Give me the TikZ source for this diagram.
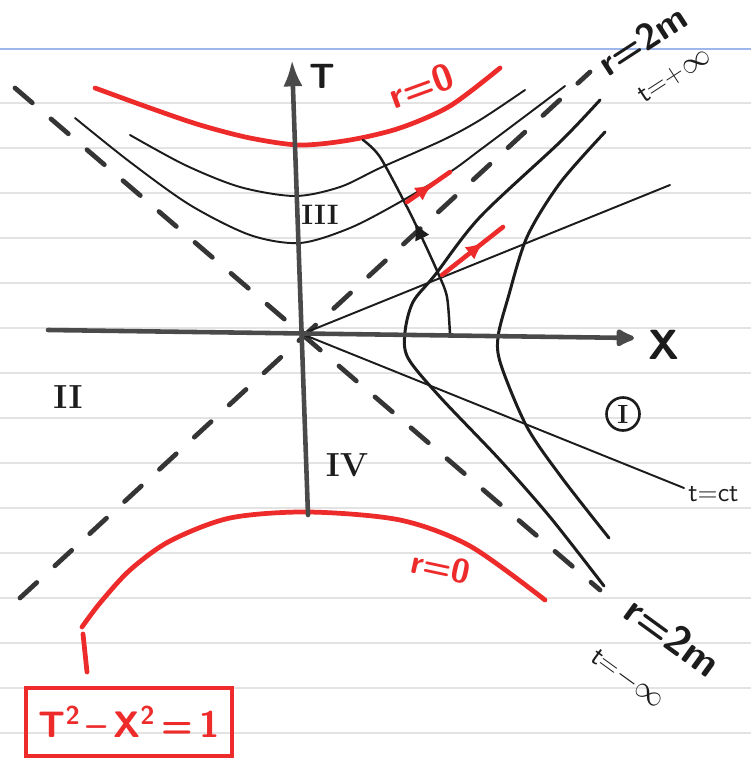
\documentclass[tikz,border=0pt]{standalone}
\usetikzlibrary{arrows.meta,decorations.markings}
\definecolor{penred}{HTML}{EE2B2B}
\definecolor{pen}{HTML}{1C1C1C}
\definecolor{axisgray}{HTML}{4A4A4A}
\definecolor{dashgray}{HTML}{353535}
\definecolor{rulegray}{HTML}{E3E3E3}
\definecolor{bluerule}{HTML}{9DB6EC}
\tikzset{
  thinpen/.style={draw=pen, line width=1.1pt, line cap=round},
  thickpen/.style={draw=pen, line width=1.7pt, line cap=round},
  axisline/.style={draw=axisgray, line width=2.6pt, line cap=round},
  horizon/.style={draw=dashgray, line width=2.7pt, line cap=round, dash pattern=on 13pt off 14pt},
  redcurve/.style={draw=penred, line width=2.7pt, line cap=round},
  redvec/.style={draw=penred, line width=2.6pt, line cap=round},
  midarrow/.style={postaction={decorate}, decoration={markings, mark=at position #1 with {\arrow{Latex[length=10pt,width=9pt]}}}},
  lbl/.style={text=pen, inner sep=0pt, font=\sffamily\bfseries\fontsize{20}{22}\selectfont},
  redlbl/.style={text=penred, inner sep=0pt, font=\sffamily\bfseries\fontsize{21}{23}\selectfont},
  roman/.style={text=pen, inner sep=0pt, font=\bfseries\fontsize{19}{20}\selectfont},
}
\begin{document}
\begin{tikzpicture}[x=0.02cm, y=-0.02cm]
\useasboundingbox (0,0) rectangle (751,763);
\fill[white] (0,0) rectangle (751,763);
% notebook paper rules
\foreach \yy in {103,148,...,733} \draw[rulegray, line width=0.6pt] (0,\yy) -- (751,\yy);
\draw[bluerule, line width=0.9pt] (0,49) -- (751,49);

\coordinate (O) at (302,334);

% horizons (dashed)
\draw[horizon] (15,88) -- (600,590);
\draw[horizon] (20,598) -- (590,72);

% red singularities r=0
\draw[redcurve] plot[smooth] coordinates {(95,88) (150,108) (200,125) (250,138) (300,145) (350,140) (400,128) (450,106) (500,68)};
\draw[redcurve] plot[smooth] coordinates {(82,627) (100,603) (130,570) (170,541) (230,518) (308,512) (400,520) (470,546) (545,600)};
\draw[redcurve] (83,634) -- (87,672);

% region III hyperbolas
\draw[thinpen] plot[smooth] coordinates {(130,135) (185,165) (240,187) (295,196) (340,187) (380,168) (443,140) (480,120) (525,90)};
\draw[thinpen] plot[smooth] coordinates {(75,118) (130,162) (190,205) (250,235) (300,243) (350,228) (400,202) (450,172) (480,150) (540,105) (565,86)};

% region I hyperbolas
\draw[thickpen] plot[smooth] coordinates {(600,100) (560,142) (480,217) (435,275) (413,302) (405,332) (408,358) (440,397) (500,460) (550,517) (604,586)};
\draw[thickpen] plot[smooth] coordinates {(605,132) (560,183) (527,237) (508,298) (498,337) (501,365) (527,427) (562,478) (609,538)};

% t = const lines
\draw[thinpen] (O) -- (670,185);
\draw[thinpen] (O) -- (684,488);

% infalling trajectory
\draw[thinpen, line width=1.4pt, midarrow=0.55] plot[smooth] coordinates {(450,335) (447,297) (438,273) (423,240) (407,207) (380,157) (363,140)};

% red vectors
\draw[redvec, midarrow=0.6] (407,202) -- (450,172);
\draw[redvec, midarrow=0.68] (442,275) -- (503,227);

% axes
\draw[axisline, -{Latex[length=15pt,width=11pt]}] (308,515) -- (292,60);
\draw[axisline, -{Latex[length=13pt,width=12pt,round]}] (48,330) -- (634,338);
\node[lbl] (Tlab) at (322,76) {T};
\node[lbl, font=\sffamily\bfseries\fontsize{24}{26}\selectfont] (Xlab) at (664,345) {X};

% horizon labels (two lines each)
\node[lbl, rotate=33, align=left, font=\sffamily\fontsize{21}{23}\selectfont] (hup) at (654,58)
  {{\bfseries r=2m}\\[1pt]\hspace*{9pt}{\fontsize{16}{18}\selectfont t=+$\infty$}};
\node[lbl, rotate=-36, align=left, font=\sffamily\fontsize{23}{25}\selectfont] (hdn) at (656,659)
  {{\bfseries r=2m}\\[6pt]{\fontsize{16}{18}\selectfont t=$-\infty$}};

% singularity labels
\node[redlbl, rotate=20] (r0up) at (421,86) {r=0};
\node[redlbl, rotate=-12, font=\sffamily\bfseries\fontsize{19}{21}\selectfont] (r0dn) at (441,567) {r=0};

% t = cte label
\node[lbl, anchor=west, font=\sffamily\fontsize{15}{17}\selectfont] (tcte) at (688,494) {t=ct};

% region labels
\node[roman] (rII) at (68,397) {II};
\node[roman, font=\bfseries\fontsize{16}{17}\selectfont] (rIII) at (320,215) {III};
\node[roman] (rIV) at (347,465) {IV};
\node[draw=pen, circle, line width=1.5pt, minimum size=0.66cm, inner sep=0pt, text=pen, font=\bfseries\fontsize{15}{15}\selectfont] (rI) at (623,414) {I};

% equation box
\node[draw=penred, line width=2.6pt, minimum width=4.12cm, minimum height=1.36cm, text=penred, inner sep=0pt, font=\sffamily\bfseries\fontsize{21}{23}\selectfont] (eq) at (129,722) {T\textsuperscript{2}\,--\,X\textsuperscript{2}\,=\,1};
\end{tikzpicture}
\end{document}
